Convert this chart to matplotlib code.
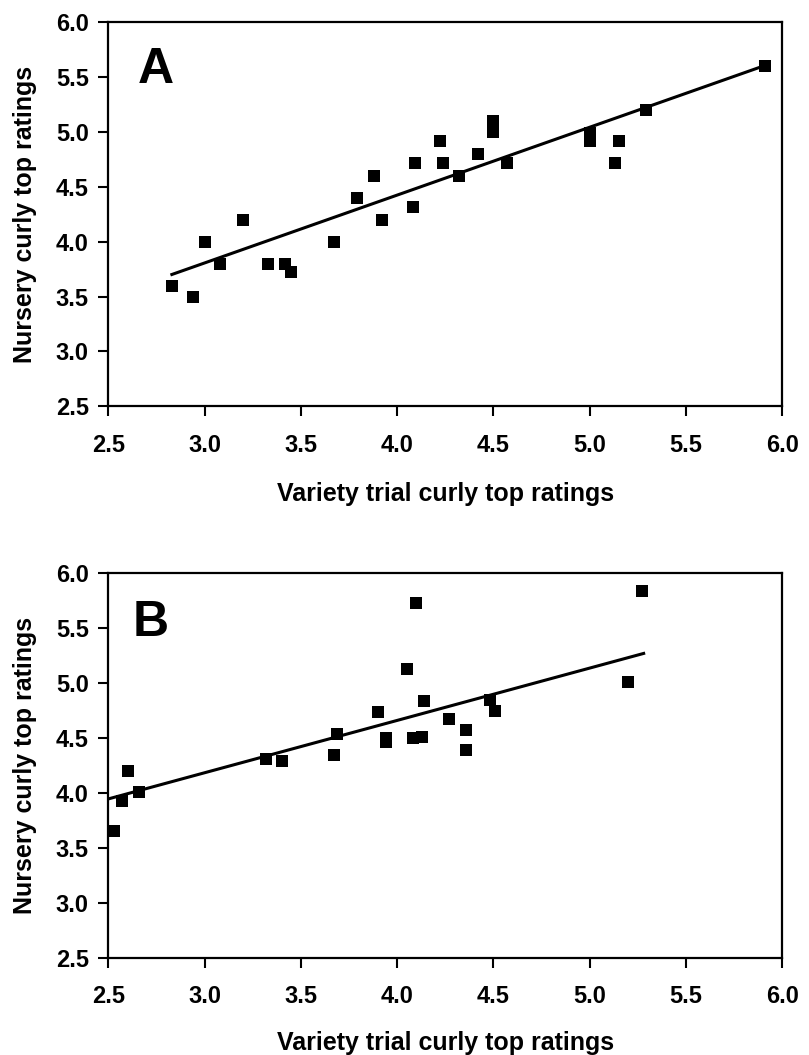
import matplotlib
matplotlib.use("Agg")
import matplotlib.pyplot as plt
import numpy as np

plt.rcParams['font.family'] = ['Liberation Sans', 'DejaVu Sans']
plt.rcParams['font.weight'] = 'bold'

# panel A: variety trial vs nursery ratings
a_x = [2.83, 2.94, 3.00, 3.08, 3.20, 3.33, 3.42, 3.45, 3.67, 3.79, 3.88, 3.92, 4.08, 4.09,
       4.22, 4.24, 4.32, 4.42, 4.50, 4.50, 4.57, 5.00, 5.00, 5.13, 5.15, 5.29, 5.91]
a_y = [3.60, 3.50, 4.00, 3.80, 4.20, 3.80, 3.80, 3.72, 4.00, 4.40, 4.60, 4.20, 4.31, 4.71,
       4.91, 4.71, 4.60, 4.80, 5.10, 5.00, 4.71, 4.99, 4.91, 4.71, 4.91, 5.20, 5.60]
a_fit = (0.617, 1.954)      # slope, intercept
a_fit_range = (2.83, 5.91)

# panel B
b_x = [2.53, 2.57, 2.60, 2.66, 3.32, 3.40, 3.67, 3.69, 3.90, 3.94, 3.94, 4.05, 4.08, 4.10,
       4.13, 4.14, 4.27, 4.36, 4.36, 4.48, 4.51, 5.20, 5.27]
b_y = [3.65, 3.93, 4.20, 4.01, 4.31, 4.29, 4.35, 4.54, 4.74, 4.50, 4.46, 5.13, 4.50, 5.73,
       4.51, 4.84, 4.67, 4.57, 4.39, 4.85, 4.75, 5.01, 5.84]
b_fit = (0.477, 2.753)
b_fit_range = (2.50, 5.28)

ticks = [2.5, 3.0, 3.5, 4.0, 4.5, 5.0, 5.5, 6.0]
xlabel = "Variety trial curly top ratings"
ylabel = "Nursery curly top ratings"

fig = plt.figure(figsize=(8.09, 10.55), dpi=100)
ax_a = fig.add_axes([0.1339, 0.6147, 0.8331, 0.3649])
ax_b = fig.add_axes([0.1339, 0.0924, 0.8331, 0.3640])

panels = [
    (ax_a, a_x, a_y, a_fit, a_fit_range, "A", (0.044, 0.841), -0.196),
    (ax_b, b_x, b_y, b_fit, b_fit_range, "B", (0.036, 0.837), -0.192),
]

for ax, xs, ys, fit, rng, letter, letter_pos, xlab_y in panels:
    ax.plot(xs, ys, 's', color='black', markersize=9.2, markeredgewidth=0)
    lx = np.array(rng)
    ax.plot(lx, fit[0] * lx + fit[1], color='black', linewidth=2.2)
    ax.set_xlim(2.5, 6.0)
    ax.set_ylim(2.5, 6.0)
    ax.set_xticks(ticks)
    ax.set_yticks(ticks)
    ax.set_xticklabels([f"{t:.1f}" for t in ticks])
    ax.set_yticklabels([f"{t:.1f}" for t in ticks])
    ax.tick_params(axis='both', direction='out', length=7, width=1.5, labelsize=17)
    ax.tick_params(axis='x', pad=13)
    ax.tick_params(axis='y', pad=7)
    for sp in ax.spines.values():
        sp.set_linewidth(1.6)
    ax.set_xlabel(xlabel, fontsize=18, fontweight='bold')
    ax.set_ylabel(ylabel, fontsize=18, fontweight='bold')
    ax.xaxis.set_label_coords(0.5, xlab_y)
    ax.yaxis.set_label_coords(-0.106, 0.5)
    ax.text(letter_pos[0], letter_pos[1], letter, transform=ax.transAxes,
            fontsize=36, fontweight='bold', va='baseline', ha='left')

fig.savefig("out.png", dpi=100)
